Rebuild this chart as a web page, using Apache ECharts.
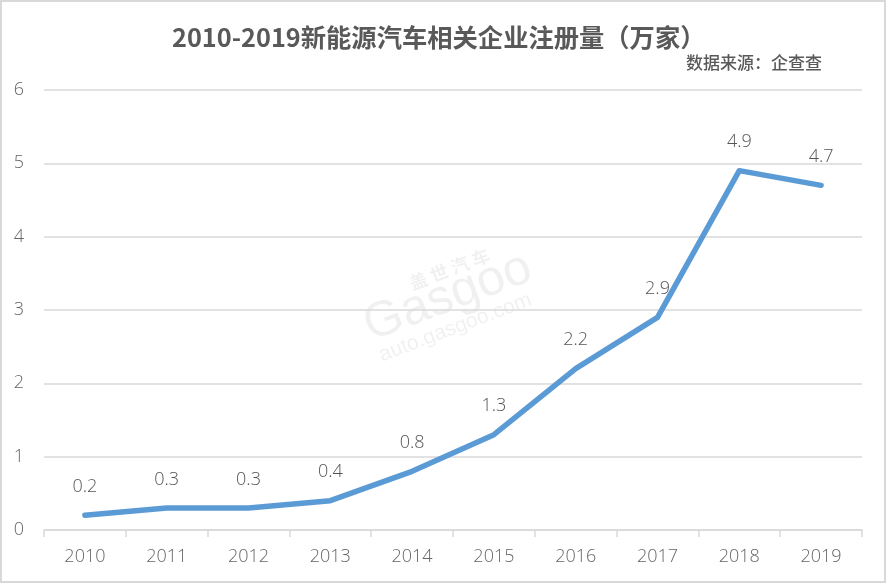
<!DOCTYPE html>
<html><head><meta charset="utf-8">
<style>html,body{margin:0;padding:0;background:#fff}#c{width:886px;height:583px}</style>
<script src="https://cdn.jsdelivr.net/npm/echarts@6/dist/echarts.min.js"></script>
</head><body><div id="c"></div>
<script>
const years = ['2010','2011','2012','2013','2014','2015','2016','2017','2018','2019'];
const values = [0.2,0.3,0.3,0.4,0.8,1.3,2.2,2.9,4.9,4.7];
const yTicks = {min:0,max:6,interval:1};
const titleText = '2010-2019新能源汽车相关企业注册量（万家）';
const sourceText = '数据来源：企查查';
const FONT = '"Noto Sans CJK SC","Noto Sans",sans-serif';
const NUM = '"Open Sans","Noto Sans",sans-serif';
const chart = echarts.init(document.getElementById('c'),null,{renderer:'canvas'});
chart.setOption({
  animation:false,
  backgroundColor:'#fff',
  grid:{left:44,right:24,top:90,bottom:53},
  xAxis:{type:'category',data:years,boundaryGap:true,
    axisLine:{lineStyle:{color:'#d9d9d9',width:1.5}},
    axisTick:{show:true,alignWithLabel:false,length:7,lineStyle:{color:'#d9d9d9',width:1.5}},
    axisLabel:{color:'#666',fontSize:18,fontWeight:300,fontFamily:NUM,margin:18}},
  yAxis:{type:'value',min:yTicks.min,max:yTicks.max,interval:yTicks.interval,
    axisLine:{show:false},axisTick:{show:false},
    splitLine:{lineStyle:{color:'#d9d9d9',width:1.5}},
    axisLabel:{color:'#666',fontSize:18,fontWeight:300,fontFamily:NUM,margin:20}},
  series:[{type:'line',data:values,symbol:'circle',symbolSize:1,showSymbol:true,
    itemStyle:{color:'#5b9bd5'},
    lineStyle:{color:'#5b9bd5',width:5.5,cap:'round',join:'round'},
    label:{show:true,position:'top',distance:19,color:'#555',fontSize:18,fontWeight:300,fontFamily:NUM,offset:[-1,0],formatter:p=>p.value.toFixed(1)},
    labelLayout:{hideOverlap:false}}],
  graphic:[
    {type:'rect',z:-1,shape:{x:1,y:1,width:884,height:581},style:{fill:'#fff',stroke:'#d9d9d9',lineWidth:2}},
    {type:'text',left:172,top:25,style:{text:titleText,font:'bold 25.3px '+FONT,fill:'#595959'}},
    {type:'text',left:686,top:54,style:{text:sourceText,font:'500 17px '+FONT,fill:'#595959'}},
    {type:'text',x:366,y:328,rotation:0.36,z:0,style:{text:'Gasgoo',font:'50px "Liberation Sans",sans-serif',fill:'rgba(0,0,0,0.06)',textVerticalAlign:'middle'}},
    {type:'text',x:410,y:284,rotation:0.36,z:0,style:{text:'盖 世 汽 车',font:'bold 18px '+FONT,fill:'rgba(0,0,0,0.06)',textVerticalAlign:'middle'}},
    {type:'text',x:380,y:356,rotation:0.36,z:0,style:{text:'auto.gasgoo.com',font:'21px "Liberation Sans",sans-serif',fill:'rgba(0,0,0,0.06)',textVerticalAlign:'middle'}}
  ]
});
</script></body></html>
